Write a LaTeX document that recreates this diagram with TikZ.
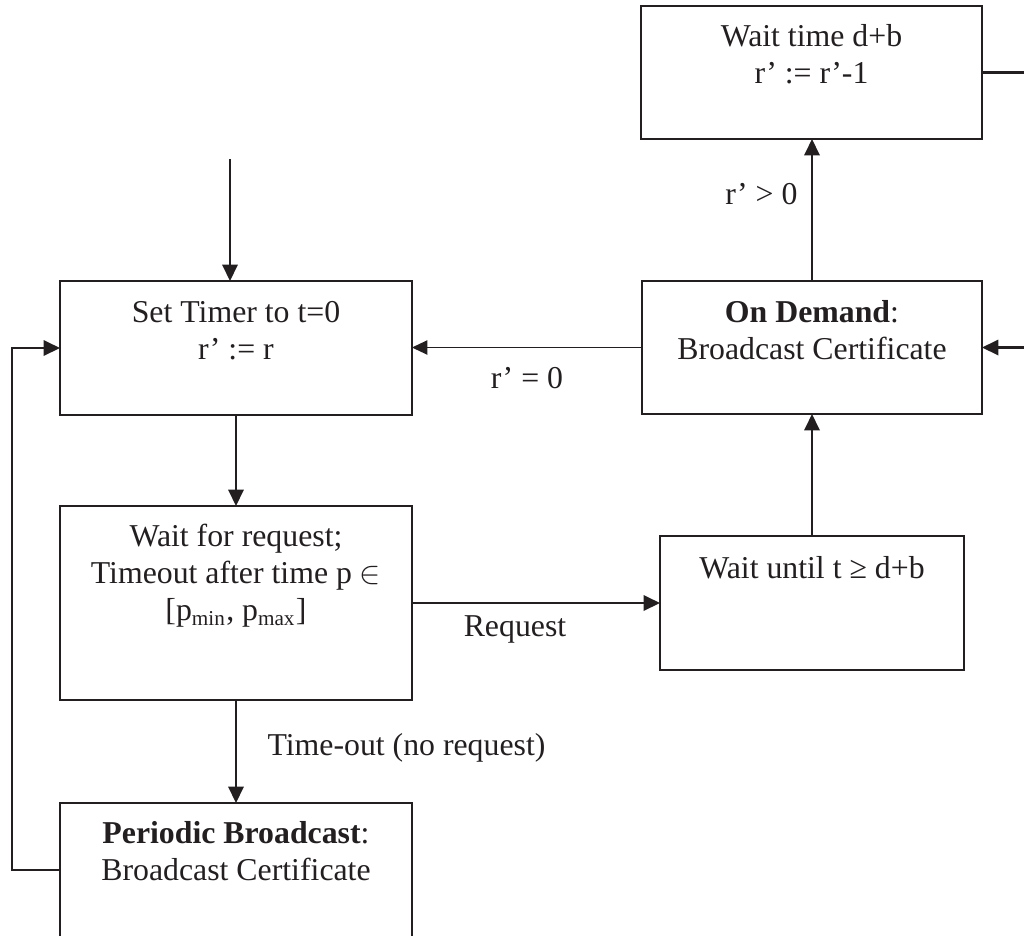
\documentclass[tikz,border=0pt]{standalone}
\usepackage{fontspec}
\setmainfont{Liberation Serif}
\usetikzlibrary{arrows.meta}
\newcommand\PX{0.37736pt}
\definecolor{ink}{RGB}{35,31,32}
\begin{document}
\begin{tikzpicture}[x=0.37736pt, y=-0.37736pt,
  box/.style={draw=ink, line width=0.95pt, rectangle, inner sep=0pt, outer sep=0pt},
  txt/.style={anchor=north, align=center, inner sep=0pt, font=\fontsize{12}{14}\selectfont, text=ink},
  lbl/.style={inner sep=0pt, font=\fontsize{12}{14}\selectfont, text=ink},
  conn/.style={draw=ink, line width=0.85pt, -{Triangle[length=6.2pt,width=5.8pt]}},
  thinconn/.style={draw=ink, line width=0.45pt, -{Triangle[length=5.8pt,width=5.4pt]}}]
\useasboundingbox (0,0) rectangle (1024,935);
\clip (0,0) rectangle (1024,935);
% boxes
\node[box, minimum width={341*\PX}, minimum height={133*\PX}] (wt) at (811.5,72.5) {};
\node[box, minimum width={352*\PX}, minimum height={134*\PX}] (st) at (236,348) {};
\node[box, minimum width={340*\PX}, minimum height={133*\PX}] (od) at (812,347.5) {};
\node[box, minimum width={352*\PX}, minimum height={194*\PX}] (wr) at (236,603) {};
\node[box, minimum width={304*\PX}, minimum height={134*\PX}] (wu) at (812,603) {};
\node[box, minimum width={352*\PX}, minimum height={147*\PX}] (pb) at (236,876.5) {};
% texts
\node[txt] (wtT) at ([yshift={-14*\PX}]wt.north) {\strut Wait time d+b\\ r' := r'-1};
\node[txt] (stT) at ([yshift={-15*\PX}]st.north) {\strut Set Timer to t=0\\ r' := r};
\node[txt] (odT) at ([yshift={-15*\PX}]od.north) {\strut\textbf{On Demand}:\\ Broadcast Certificate};
\node[txt] (wrT) at ([yshift={-14*\PX}]wr.north) {\strut Wait for request;\\ Timeout after time p $\in$\\ {[}p\textsubscript{min}, p\textsubscript{max}{]}};
\node[txt] (wuT) at ([yshift={-16*\PX}]wu.north) {\strut Wait until t ≥ d+b};
\node[txt] (pbT) at ([yshift={-14*\PX}]pb.north) {\strut\textbf{Periodic Broadcast}:\\ Broadcast Certificate};
% connectors
\coordinate (in) at (230,159);
\coordinate (rt) at (1030,72.5);
\coordinate (lp) at (12,870);
\draw[conn] (in) -- (in |- st.north);
\draw[conn] (st.south) -- (wr.north);
\draw[conn] (wr.south) -- (pb.north);
\draw[conn] (wr.east) -- (wu.west);
\draw[conn] (wu.north) -- (od.south);
\draw[conn] (od.north) -- (od.north |- wt.south);
\draw[thinconn] (od.west) -- (od.west -| st.east);
\draw[conn] (wt.east) -- (rt) |- (od.east);
\draw[conn] (pb.west |- lp) -- (lp) |- (st.west);
% labels
\node[lbl, anchor=base east] (l1) at (798,204) {r' > 0};
\node[lbl, anchor=base] (l2) at (527,388) {r' = 0};
\node[lbl, anchor=base] (l3) at (515,636) {Request};
\node[lbl, anchor=base west] (l4) at (267,755) {Time-out (no request)};
\end{tikzpicture}
\end{document}
